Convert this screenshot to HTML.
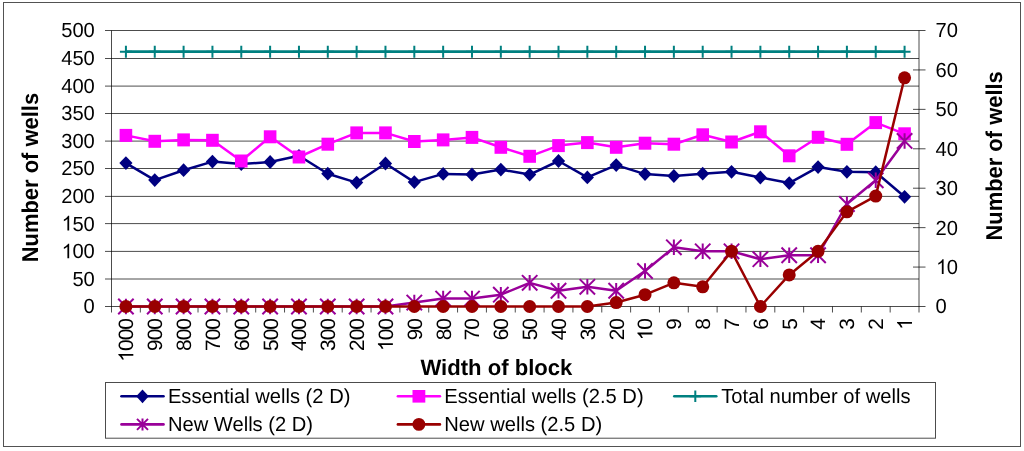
<!DOCTYPE html>
<html><head><meta charset="utf-8"><title>Chart</title>
<style>html,body{margin:0;padding:0;background:#fff;}svg{display:block;will-change:transform;}text{text-rendering:geometricPrecision;letter-spacing:0px;font-family:"Liberation Sans",sans-serif;fill:#000;}</style></head><body>
<svg width="1024" height="451" viewBox="0 0 1024 451">
<rect x="0" y="0" width="1024" height="451" fill="#fff"/>
<rect x="3.5" y="2.5" width="1017" height="444" fill="none" stroke="#000" stroke-opacity="0.68" stroke-width="1"/>
<g stroke="#000" stroke-opacity="0.7" stroke-width="1" fill="none">
<line x1="105.00" y1="30.50" x2="925.50" y2="30.50"/>
<line x1="105.00" y1="58.50" x2="919.00" y2="58.50"/>
<line x1="105.00" y1="86.10" x2="919.00" y2="86.10"/>
<line x1="105.00" y1="113.50" x2="919.00" y2="113.50"/>
<line x1="105.00" y1="141.10" x2="919.00" y2="141.10"/>
<line x1="105.00" y1="168.50" x2="919.00" y2="168.50"/>
<line x1="105.00" y1="196.40" x2="919.00" y2="196.40"/>
<line x1="105.00" y1="223.60" x2="919.00" y2="223.60"/>
<line x1="105.00" y1="251.40" x2="919.00" y2="251.40"/>
<line x1="105.00" y1="279.00" x2="919.00" y2="279.00"/>
<line x1="105.00" y1="306.50" x2="925.50" y2="306.50"/>
<line x1="111.50" y1="30.50" x2="111.50" y2="312.50"/>
<line x1="919.00" y1="30.50" x2="919.00" y2="312.50"/>
<line x1="913.00" y1="267.07" x2="925.50" y2="267.07"/>
<line x1="913.00" y1="227.64" x2="925.50" y2="227.64"/>
<line x1="913.00" y1="188.21" x2="925.50" y2="188.21"/>
<line x1="913.00" y1="148.79" x2="925.50" y2="148.79"/>
<line x1="913.00" y1="109.36" x2="925.50" y2="109.36"/>
<line x1="913.00" y1="69.93" x2="925.50" y2="69.93"/>
<line x1="140.34" y1="306.50" x2="140.34" y2="312.50"/>
<line x1="169.18" y1="306.50" x2="169.18" y2="312.50"/>
<line x1="198.02" y1="306.50" x2="198.02" y2="312.50"/>
<line x1="226.86" y1="306.50" x2="226.86" y2="312.50"/>
<line x1="255.70" y1="306.50" x2="255.70" y2="312.50"/>
<line x1="284.54" y1="306.50" x2="284.54" y2="312.50"/>
<line x1="313.38" y1="306.50" x2="313.38" y2="312.50"/>
<line x1="342.21" y1="306.50" x2="342.21" y2="312.50"/>
<line x1="371.05" y1="306.50" x2="371.05" y2="312.50"/>
<line x1="399.89" y1="306.50" x2="399.89" y2="312.50"/>
<line x1="428.73" y1="306.50" x2="428.73" y2="312.50"/>
<line x1="457.57" y1="306.50" x2="457.57" y2="312.50"/>
<line x1="486.41" y1="306.50" x2="486.41" y2="312.50"/>
<line x1="515.25" y1="306.50" x2="515.25" y2="312.50"/>
<line x1="544.09" y1="306.50" x2="544.09" y2="312.50"/>
<line x1="572.93" y1="306.50" x2="572.93" y2="312.50"/>
<line x1="601.77" y1="306.50" x2="601.77" y2="312.50"/>
<line x1="630.61" y1="306.50" x2="630.61" y2="312.50"/>
<line x1="659.45" y1="306.50" x2="659.45" y2="312.50"/>
<line x1="688.29" y1="306.50" x2="688.29" y2="312.50"/>
<line x1="717.12" y1="306.50" x2="717.12" y2="312.50"/>
<line x1="745.96" y1="306.50" x2="745.96" y2="312.50"/>
<line x1="774.80" y1="306.50" x2="774.80" y2="312.50"/>
<line x1="803.64" y1="306.50" x2="803.64" y2="312.50"/>
<line x1="832.48" y1="306.50" x2="832.48" y2="312.50"/>
<line x1="861.32" y1="306.50" x2="861.32" y2="312.50"/>
<line x1="890.16" y1="306.50" x2="890.16" y2="312.50"/>
</g>
<polyline points="125.92,163.10 154.76,180.10 183.60,170.20 212.44,161.60 241.28,164.10 270.12,162.00 298.96,155.80 327.79,173.70 356.63,182.60 385.47,163.50 414.31,182.10 443.15,173.90 471.99,174.50 500.83,169.60 529.67,174.60 558.51,161.00 587.35,177.40 616.19,165.10 645.03,174.10 673.87,176.00 702.71,173.70 731.54,171.80 760.38,177.50 789.22,183.10 818.06,167.10 846.90,171.80 875.74,172.20 904.58,196.80" fill="none" stroke="#000080" stroke-width="2.50" stroke-linejoin="round" stroke-linecap="round"/>
<path d="M125.92 156.20L132.52 163.10L125.92 170.00L119.32 163.10Z" fill="#000080"/>
<path d="M154.76 173.20L161.36 180.10L154.76 187.00L148.16 180.10Z" fill="#000080"/>
<path d="M183.60 163.30L190.20 170.20L183.60 177.10L177.00 170.20Z" fill="#000080"/>
<path d="M212.44 154.70L219.04 161.60L212.44 168.50L205.84 161.60Z" fill="#000080"/>
<path d="M241.28 157.20L247.88 164.10L241.28 171.00L234.68 164.10Z" fill="#000080"/>
<path d="M270.12 155.10L276.72 162.00L270.12 168.90L263.52 162.00Z" fill="#000080"/>
<path d="M298.96 148.90L305.56 155.80L298.96 162.70L292.36 155.80Z" fill="#000080"/>
<path d="M327.79 166.80L334.39 173.70L327.79 180.60L321.19 173.70Z" fill="#000080"/>
<path d="M356.63 175.70L363.23 182.60L356.63 189.50L350.03 182.60Z" fill="#000080"/>
<path d="M385.47 156.60L392.07 163.50L385.47 170.40L378.87 163.50Z" fill="#000080"/>
<path d="M414.31 175.20L420.91 182.10L414.31 189.00L407.71 182.10Z" fill="#000080"/>
<path d="M443.15 167.00L449.75 173.90L443.15 180.80L436.55 173.90Z" fill="#000080"/>
<path d="M471.99 167.60L478.59 174.50L471.99 181.40L465.39 174.50Z" fill="#000080"/>
<path d="M500.83 162.70L507.43 169.60L500.83 176.50L494.23 169.60Z" fill="#000080"/>
<path d="M529.67 167.70L536.27 174.60L529.67 181.50L523.07 174.60Z" fill="#000080"/>
<path d="M558.51 154.10L565.11 161.00L558.51 167.90L551.91 161.00Z" fill="#000080"/>
<path d="M587.35 170.50L593.95 177.40L587.35 184.30L580.75 177.40Z" fill="#000080"/>
<path d="M616.19 158.20L622.79 165.10L616.19 172.00L609.59 165.10Z" fill="#000080"/>
<path d="M645.03 167.20L651.63 174.10L645.03 181.00L638.43 174.10Z" fill="#000080"/>
<path d="M673.87 169.10L680.47 176.00L673.87 182.90L667.27 176.00Z" fill="#000080"/>
<path d="M702.71 166.80L709.31 173.70L702.71 180.60L696.11 173.70Z" fill="#000080"/>
<path d="M731.54 164.90L738.14 171.80L731.54 178.70L724.94 171.80Z" fill="#000080"/>
<path d="M760.38 170.60L766.98 177.50L760.38 184.40L753.78 177.50Z" fill="#000080"/>
<path d="M789.22 176.20L795.82 183.10L789.22 190.00L782.62 183.10Z" fill="#000080"/>
<path d="M818.06 160.20L824.66 167.10L818.06 174.00L811.46 167.10Z" fill="#000080"/>
<path d="M846.90 164.90L853.50 171.80L846.90 178.70L840.30 171.80Z" fill="#000080"/>
<path d="M875.74 165.30L882.34 172.20L875.74 179.10L869.14 172.20Z" fill="#000080"/>
<path d="M904.58 189.90L911.18 196.80L904.58 203.70L897.98 196.80Z" fill="#000080"/>
<polyline points="125.92,135.40 154.76,141.30 183.60,139.90 212.44,140.30 241.28,161.00 270.12,136.80 298.96,157.00 327.79,144.20 356.63,132.90 385.47,132.90 414.31,141.50 443.15,139.90 471.99,137.40 500.83,147.30 529.67,156.30 558.51,145.60 587.35,142.60 616.19,147.30 645.03,143.20 673.87,144.20 702.71,134.80 731.54,142.00 760.38,131.80 789.22,155.80 818.06,137.30 846.90,144.30 875.74,122.60 904.58,133.80" fill="none" stroke="#ff00ff" stroke-width="2.50" stroke-linejoin="round" stroke-linecap="round"/>
<rect x="119.62" y="128.90" width="12.60" height="13.00" fill="#ff00ff"/>
<rect x="148.46" y="134.80" width="12.60" height="13.00" fill="#ff00ff"/>
<rect x="177.30" y="133.40" width="12.60" height="13.00" fill="#ff00ff"/>
<rect x="206.14" y="133.80" width="12.60" height="13.00" fill="#ff00ff"/>
<rect x="234.98" y="154.50" width="12.60" height="13.00" fill="#ff00ff"/>
<rect x="263.82" y="130.30" width="12.60" height="13.00" fill="#ff00ff"/>
<rect x="292.66" y="150.50" width="12.60" height="13.00" fill="#ff00ff"/>
<rect x="321.49" y="137.70" width="12.60" height="13.00" fill="#ff00ff"/>
<rect x="350.33" y="126.40" width="12.60" height="13.00" fill="#ff00ff"/>
<rect x="379.17" y="126.40" width="12.60" height="13.00" fill="#ff00ff"/>
<rect x="408.01" y="135.00" width="12.60" height="13.00" fill="#ff00ff"/>
<rect x="436.85" y="133.40" width="12.60" height="13.00" fill="#ff00ff"/>
<rect x="465.69" y="130.90" width="12.60" height="13.00" fill="#ff00ff"/>
<rect x="494.53" y="140.80" width="12.60" height="13.00" fill="#ff00ff"/>
<rect x="523.37" y="149.80" width="12.60" height="13.00" fill="#ff00ff"/>
<rect x="552.21" y="139.10" width="12.60" height="13.00" fill="#ff00ff"/>
<rect x="581.05" y="136.10" width="12.60" height="13.00" fill="#ff00ff"/>
<rect x="609.89" y="140.80" width="12.60" height="13.00" fill="#ff00ff"/>
<rect x="638.73" y="136.70" width="12.60" height="13.00" fill="#ff00ff"/>
<rect x="667.57" y="137.70" width="12.60" height="13.00" fill="#ff00ff"/>
<rect x="696.41" y="128.30" width="12.60" height="13.00" fill="#ff00ff"/>
<rect x="725.24" y="135.50" width="12.60" height="13.00" fill="#ff00ff"/>
<rect x="754.08" y="125.30" width="12.60" height="13.00" fill="#ff00ff"/>
<rect x="782.92" y="149.30" width="12.60" height="13.00" fill="#ff00ff"/>
<rect x="811.76" y="130.80" width="12.60" height="13.00" fill="#ff00ff"/>
<rect x="840.60" y="137.80" width="12.60" height="13.00" fill="#ff00ff"/>
<rect x="869.44" y="116.10" width="12.60" height="13.00" fill="#ff00ff"/>
<rect x="898.28" y="127.30" width="12.60" height="13.00" fill="#ff00ff"/>
<line x1="125.92" y1="51.70" x2="904.58" y2="51.70" stroke="#008080" stroke-width="2.80"/>
<path d="M125.92 45.70V57.70M119.92 51.70H131.92" stroke="#008080" stroke-width="2.00" fill="none"/>
<path d="M154.76 45.70V57.70M148.76 51.70H160.76" stroke="#008080" stroke-width="2.00" fill="none"/>
<path d="M183.60 45.70V57.70M177.60 51.70H189.60" stroke="#008080" stroke-width="2.00" fill="none"/>
<path d="M212.44 45.70V57.70M206.44 51.70H218.44" stroke="#008080" stroke-width="2.00" fill="none"/>
<path d="M241.28 45.70V57.70M235.28 51.70H247.28" stroke="#008080" stroke-width="2.00" fill="none"/>
<path d="M270.12 45.70V57.70M264.12 51.70H276.12" stroke="#008080" stroke-width="2.00" fill="none"/>
<path d="M298.96 45.70V57.70M292.96 51.70H304.96" stroke="#008080" stroke-width="2.00" fill="none"/>
<path d="M327.79 45.70V57.70M321.79 51.70H333.79" stroke="#008080" stroke-width="2.00" fill="none"/>
<path d="M356.63 45.70V57.70M350.63 51.70H362.63" stroke="#008080" stroke-width="2.00" fill="none"/>
<path d="M385.47 45.70V57.70M379.47 51.70H391.47" stroke="#008080" stroke-width="2.00" fill="none"/>
<path d="M414.31 45.70V57.70M408.31 51.70H420.31" stroke="#008080" stroke-width="2.00" fill="none"/>
<path d="M443.15 45.70V57.70M437.15 51.70H449.15" stroke="#008080" stroke-width="2.00" fill="none"/>
<path d="M471.99 45.70V57.70M465.99 51.70H477.99" stroke="#008080" stroke-width="2.00" fill="none"/>
<path d="M500.83 45.70V57.70M494.83 51.70H506.83" stroke="#008080" stroke-width="2.00" fill="none"/>
<path d="M529.67 45.70V57.70M523.67 51.70H535.67" stroke="#008080" stroke-width="2.00" fill="none"/>
<path d="M558.51 45.70V57.70M552.51 51.70H564.51" stroke="#008080" stroke-width="2.00" fill="none"/>
<path d="M587.35 45.70V57.70M581.35 51.70H593.35" stroke="#008080" stroke-width="2.00" fill="none"/>
<path d="M616.19 45.70V57.70M610.19 51.70H622.19" stroke="#008080" stroke-width="2.00" fill="none"/>
<path d="M645.03 45.70V57.70M639.03 51.70H651.03" stroke="#008080" stroke-width="2.00" fill="none"/>
<path d="M673.87 45.70V57.70M667.87 51.70H679.87" stroke="#008080" stroke-width="2.00" fill="none"/>
<path d="M702.71 45.70V57.70M696.71 51.70H708.71" stroke="#008080" stroke-width="2.00" fill="none"/>
<path d="M731.54 45.70V57.70M725.54 51.70H737.54" stroke="#008080" stroke-width="2.00" fill="none"/>
<path d="M760.38 45.70V57.70M754.38 51.70H766.38" stroke="#008080" stroke-width="2.00" fill="none"/>
<path d="M789.22 45.70V57.70M783.22 51.70H795.22" stroke="#008080" stroke-width="2.00" fill="none"/>
<path d="M818.06 45.70V57.70M812.06 51.70H824.06" stroke="#008080" stroke-width="2.00" fill="none"/>
<path d="M846.90 45.70V57.70M840.90 51.70H852.90" stroke="#008080" stroke-width="2.00" fill="none"/>
<path d="M875.74 45.70V57.70M869.74 51.70H881.74" stroke="#008080" stroke-width="2.00" fill="none"/>
<path d="M904.58 45.70V57.70M898.58 51.70H910.58" stroke="#008080" stroke-width="2.00" fill="none"/>
<polyline points="125.92,306.50 154.76,306.50 183.60,306.50 212.44,306.50 241.28,306.50 270.12,306.50 298.96,306.50 327.79,306.50 356.63,306.50 385.47,306.50 414.31,302.56 443.15,298.61 471.99,298.61 500.83,294.67 529.67,282.84 558.51,290.73 587.35,286.79 616.19,290.73 645.03,271.01 673.87,247.36 702.71,251.30 731.54,251.30 760.38,259.19 789.22,255.24 818.06,255.24 846.90,203.99 875.74,180.33 904.58,140.90" fill="none" stroke="#990099" stroke-width="2.50" stroke-linejoin="round" stroke-linecap="round"/>
<path d="M118.22 298.80L133.62 314.20M118.22 314.20L133.62 298.80M125.92 298.75V314.25" stroke="#990099" stroke-width="2.00" fill="none"/>
<path d="M147.06 298.80L162.46 314.20M147.06 314.20L162.46 298.80M154.76 298.75V314.25" stroke="#990099" stroke-width="2.00" fill="none"/>
<path d="M175.90 298.80L191.30 314.20M175.90 314.20L191.30 298.80M183.60 298.75V314.25" stroke="#990099" stroke-width="2.00" fill="none"/>
<path d="M204.74 298.80L220.14 314.20M204.74 314.20L220.14 298.80M212.44 298.75V314.25" stroke="#990099" stroke-width="2.00" fill="none"/>
<path d="M233.58 298.80L248.98 314.20M233.58 314.20L248.98 298.80M241.28 298.75V314.25" stroke="#990099" stroke-width="2.00" fill="none"/>
<path d="M262.42 298.80L277.82 314.20M262.42 314.20L277.82 298.80M270.12 298.75V314.25" stroke="#990099" stroke-width="2.00" fill="none"/>
<path d="M291.26 298.80L306.66 314.20M291.26 314.20L306.66 298.80M298.96 298.75V314.25" stroke="#990099" stroke-width="2.00" fill="none"/>
<path d="M320.09 298.80L335.49 314.20M320.09 314.20L335.49 298.80M327.79 298.75V314.25" stroke="#990099" stroke-width="2.00" fill="none"/>
<path d="M348.93 298.80L364.33 314.20M348.93 314.20L364.33 298.80M356.63 298.75V314.25" stroke="#990099" stroke-width="2.00" fill="none"/>
<path d="M377.77 298.80L393.17 314.20M377.77 314.20L393.17 298.80M385.47 298.75V314.25" stroke="#990099" stroke-width="2.00" fill="none"/>
<path d="M406.61 294.86L422.01 310.26M406.61 310.26L422.01 294.86M414.31 294.81V310.31" stroke="#990099" stroke-width="2.00" fill="none"/>
<path d="M435.45 290.91L450.85 306.31M435.45 306.31L450.85 290.91M443.15 290.86V306.36" stroke="#990099" stroke-width="2.00" fill="none"/>
<path d="M464.29 290.91L479.69 306.31M464.29 306.31L479.69 290.91M471.99 290.86V306.36" stroke="#990099" stroke-width="2.00" fill="none"/>
<path d="M493.13 286.97L508.53 302.37M493.13 302.37L508.53 286.97M500.83 286.92V302.42" stroke="#990099" stroke-width="2.00" fill="none"/>
<path d="M521.97 275.14L537.37 290.54M521.97 290.54L537.37 275.14M529.67 275.09V290.59" stroke="#990099" stroke-width="2.00" fill="none"/>
<path d="M550.81 283.03L566.21 298.43M550.81 298.43L566.21 283.03M558.51 282.98V298.48" stroke="#990099" stroke-width="2.00" fill="none"/>
<path d="M579.65 279.09L595.05 294.49M579.65 294.49L595.05 279.09M587.35 279.04V294.54" stroke="#990099" stroke-width="2.00" fill="none"/>
<path d="M608.49 283.03L623.89 298.43M608.49 298.43L623.89 283.03M616.19 282.98V298.48" stroke="#990099" stroke-width="2.00" fill="none"/>
<path d="M637.33 263.31L652.73 278.71M637.33 278.71L652.73 263.31M645.03 263.26V278.76" stroke="#990099" stroke-width="2.00" fill="none"/>
<path d="M666.17 239.66L681.57 255.06M666.17 255.06L681.57 239.66M673.87 239.61V255.11" stroke="#990099" stroke-width="2.00" fill="none"/>
<path d="M695.01 243.60L710.41 259.00M695.01 259.00L710.41 243.60M702.71 243.55V259.05" stroke="#990099" stroke-width="2.00" fill="none"/>
<path d="M723.84 243.60L739.24 259.00M723.84 259.00L739.24 243.60M731.54 243.55V259.05" stroke="#990099" stroke-width="2.00" fill="none"/>
<path d="M752.68 251.49L768.08 266.89M752.68 266.89L768.08 251.49M760.38 251.44V266.94" stroke="#990099" stroke-width="2.00" fill="none"/>
<path d="M781.52 247.54L796.92 262.94M781.52 262.94L796.92 247.54M789.22 247.49V262.99" stroke="#990099" stroke-width="2.00" fill="none"/>
<path d="M810.36 247.54L825.76 262.94M810.36 262.94L825.76 247.54M818.06 247.49V262.99" stroke="#990099" stroke-width="2.00" fill="none"/>
<path d="M839.20 196.29L854.60 211.69M839.20 211.69L854.60 196.29M846.90 196.24V211.74" stroke="#990099" stroke-width="2.00" fill="none"/>
<path d="M868.04 172.63L883.44 188.03M868.04 188.03L883.44 172.63M875.74 172.58V188.08" stroke="#990099" stroke-width="2.00" fill="none"/>
<path d="M896.88 133.20L912.28 148.60M896.88 148.60L912.28 133.20M904.58 133.15V148.65" stroke="#990099" stroke-width="2.00" fill="none"/>
<polyline points="125.92,306.50 154.76,306.50 183.60,306.50 212.44,306.50 241.28,306.50 270.12,306.50 298.96,306.50 327.79,306.50 356.63,306.50 385.47,306.50 414.31,306.50 443.15,306.50 471.99,306.50 500.83,306.50 529.67,306.50 558.51,306.50 587.35,306.50 616.19,302.56 645.03,294.67 673.87,282.84 702.71,286.79 731.54,251.30 760.38,306.50 789.22,274.96 818.06,251.30 846.90,211.87 875.74,196.10 904.58,77.81" fill="none" stroke="#990000" stroke-width="2.50" stroke-linejoin="round" stroke-linecap="round"/>
<circle cx="125.92" cy="306.50" r="6.50" fill="#990000"/>
<circle cx="154.76" cy="306.50" r="6.50" fill="#990000"/>
<circle cx="183.60" cy="306.50" r="6.50" fill="#990000"/>
<circle cx="212.44" cy="306.50" r="6.50" fill="#990000"/>
<circle cx="241.28" cy="306.50" r="6.50" fill="#990000"/>
<circle cx="270.12" cy="306.50" r="6.50" fill="#990000"/>
<circle cx="298.96" cy="306.50" r="6.50" fill="#990000"/>
<circle cx="327.79" cy="306.50" r="6.50" fill="#990000"/>
<circle cx="356.63" cy="306.50" r="6.50" fill="#990000"/>
<circle cx="385.47" cy="306.50" r="6.50" fill="#990000"/>
<circle cx="414.31" cy="306.50" r="6.50" fill="#990000"/>
<circle cx="443.15" cy="306.50" r="6.50" fill="#990000"/>
<circle cx="471.99" cy="306.50" r="6.50" fill="#990000"/>
<circle cx="500.83" cy="306.50" r="6.50" fill="#990000"/>
<circle cx="529.67" cy="306.50" r="6.50" fill="#990000"/>
<circle cx="558.51" cy="306.50" r="6.50" fill="#990000"/>
<circle cx="587.35" cy="306.50" r="6.50" fill="#990000"/>
<circle cx="616.19" cy="302.56" r="6.50" fill="#990000"/>
<circle cx="645.03" cy="294.67" r="6.50" fill="#990000"/>
<circle cx="673.87" cy="282.84" r="6.50" fill="#990000"/>
<circle cx="702.71" cy="286.79" r="6.50" fill="#990000"/>
<circle cx="731.54" cy="251.30" r="6.50" fill="#990000"/>
<circle cx="760.38" cy="306.50" r="6.50" fill="#990000"/>
<circle cx="789.22" cy="274.96" r="6.50" fill="#990000"/>
<circle cx="818.06" cy="251.30" r="6.50" fill="#990000"/>
<circle cx="846.90" cy="211.87" r="6.50" fill="#990000"/>
<circle cx="875.74" cy="196.10" r="6.50" fill="#990000"/>
<circle cx="904.58" cy="77.81" r="6.50" fill="#990000"/>
<text transform="translate(94.80,313.40) scale(0.9880,1)" font-size="20.40" text-anchor="end">0</text>
<text transform="translate(94.80,285.90) scale(0.9880,1)" font-size="20.40" text-anchor="end">50</text>
<g transform="translate(94.80,258.30) scale(0.9880,1)"><path transform="translate(-33.537,0) scale(0.009961)" d="M763 0H583V-1147Q518 -1085 412.5 -1023Q307 -961 223 -930V-1104Q374 -1175 487 -1276Q600 -1377 647 -1472H763Z" fill="#000"/><text x="-22.691" y="0" font-size="20.40">00</text></g>
<g transform="translate(94.80,230.50) scale(0.9880,1)"><path transform="translate(-33.537,0) scale(0.009961)" d="M763 0H583V-1147Q518 -1085 412.5 -1023Q307 -961 223 -930V-1104Q374 -1175 487 -1276Q600 -1377 647 -1472H763Z" fill="#000"/><text x="-22.691" y="0" font-size="20.40">50</text></g>
<text transform="translate(94.80,203.30) scale(0.9880,1)" font-size="20.40" text-anchor="end">200</text>
<text transform="translate(94.80,175.40) scale(0.9880,1)" font-size="20.40" text-anchor="end">250</text>
<text transform="translate(94.80,148.00) scale(0.9880,1)" font-size="20.40" text-anchor="end">300</text>
<text transform="translate(94.80,120.40) scale(0.9880,1)" font-size="20.40" text-anchor="end">350</text>
<text transform="translate(94.80,93.00) scale(0.9880,1)" font-size="20.40" text-anchor="end">400</text>
<text transform="translate(94.80,65.40) scale(0.9880,1)" font-size="20.40" text-anchor="end">450</text>
<text transform="translate(94.80,37.40) scale(0.9880,1)" font-size="20.40" text-anchor="end">500</text>
<text transform="translate(935.60,313.40) scale(0.9880,1)" font-size="20.40">0</text>
<g transform="translate(935.60,273.97) scale(0.9880,1)"><path transform="translate(0.500,0) scale(0.009961)" d="M763 0H583V-1147Q518 -1085 412.5 -1023Q307 -961 223 -930V-1104Q374 -1175 487 -1276Q600 -1377 647 -1472H763Z" fill="#000"/><text x="11.346" y="0" font-size="20.40">0</text></g>
<text transform="translate(935.60,234.54) scale(0.9880,1)" font-size="20.40">20</text>
<text transform="translate(935.60,195.11) scale(0.9880,1)" font-size="20.40">30</text>
<text transform="translate(935.60,155.69) scale(0.9880,1)" font-size="20.40">40</text>
<text transform="translate(935.60,116.26) scale(0.9880,1)" font-size="20.40">50</text>
<text transform="translate(935.60,76.83) scale(0.9880,1)" font-size="20.40">60</text>
<text transform="translate(935.60,37.40) scale(0.9880,1)" font-size="20.40">70</text>
<g transform="translate(133.32,319.00) rotate(-90) scale(1.0000,1)"><path transform="translate(-42.672,0) scale(0.010156)" d="M763 0H583V-1147Q518 -1085 412.5 -1023Q307 -961 223 -930V-1104Q374 -1175 487 -1276Q600 -1377 647 -1472H763Z" fill="#000"/><text x="-32.004" y="0" font-size="20.80" style="letter-spacing:-0.90px">000</text></g>
<text transform="translate(162.16,319.00) rotate(-90) scale(1.0000,1)" font-size="20.80" style="letter-spacing:-0.90px" text-anchor="end">900</text>
<text transform="translate(191.00,319.00) rotate(-90) scale(1.0000,1)" font-size="20.80" style="letter-spacing:-0.90px" text-anchor="end">800</text>
<text transform="translate(219.84,319.00) rotate(-90) scale(1.0000,1)" font-size="20.80" style="letter-spacing:-0.90px" text-anchor="end">700</text>
<text transform="translate(248.68,319.00) rotate(-90) scale(1.0000,1)" font-size="20.80" style="letter-spacing:-0.90px" text-anchor="end">600</text>
<text transform="translate(277.52,319.00) rotate(-90) scale(1.0000,1)" font-size="20.80" style="letter-spacing:-0.90px" text-anchor="end">500</text>
<text transform="translate(306.36,319.00) rotate(-90) scale(1.0000,1)" font-size="20.80" style="letter-spacing:-0.90px" text-anchor="end">400</text>
<text transform="translate(335.19,319.00) rotate(-90) scale(1.0000,1)" font-size="20.80" style="letter-spacing:-0.90px" text-anchor="end">300</text>
<text transform="translate(364.03,319.00) rotate(-90) scale(1.0000,1)" font-size="20.80" style="letter-spacing:-0.90px" text-anchor="end">200</text>
<g transform="translate(392.87,319.00) rotate(-90) scale(1.0000,1)"><path transform="translate(-32.004,0) scale(0.010156)" d="M763 0H583V-1147Q518 -1085 412.5 -1023Q307 -961 223 -930V-1104Q374 -1175 487 -1276Q600 -1377 647 -1472H763Z" fill="#000"/><text x="-21.336" y="0" font-size="20.80" style="letter-spacing:-0.90px">00</text></g>
<text transform="translate(421.71,319.00) rotate(-90) scale(1.0000,1)" font-size="20.80" style="letter-spacing:-0.90px" text-anchor="end">90</text>
<text transform="translate(450.55,319.00) rotate(-90) scale(1.0000,1)" font-size="20.80" style="letter-spacing:-0.90px" text-anchor="end">80</text>
<text transform="translate(479.39,319.00) rotate(-90) scale(1.0000,1)" font-size="20.80" style="letter-spacing:-0.90px" text-anchor="end">70</text>
<text transform="translate(508.23,319.00) rotate(-90) scale(1.0000,1)" font-size="20.80" style="letter-spacing:-0.90px" text-anchor="end">60</text>
<text transform="translate(537.07,319.00) rotate(-90) scale(1.0000,1)" font-size="20.80" style="letter-spacing:-0.90px" text-anchor="end">50</text>
<text transform="translate(565.91,319.00) rotate(-90) scale(1.0000,1)" font-size="20.80" style="letter-spacing:-0.90px" text-anchor="end">40</text>
<text transform="translate(594.75,319.00) rotate(-90) scale(1.0000,1)" font-size="20.80" style="letter-spacing:-0.90px" text-anchor="end">30</text>
<text transform="translate(623.59,319.00) rotate(-90) scale(1.0000,1)" font-size="20.80" style="letter-spacing:-0.90px" text-anchor="end">20</text>
<g transform="translate(652.43,319.00) rotate(-90) scale(1.0000,1)"><path transform="translate(-21.336,0) scale(0.010156)" d="M763 0H583V-1147Q518 -1085 412.5 -1023Q307 -961 223 -930V-1104Q374 -1175 487 -1276Q600 -1377 647 -1472H763Z" fill="#000"/><text x="-10.668" y="0" font-size="20.80" style="letter-spacing:-0.90px">0</text></g>
<text transform="translate(681.27,319.00) rotate(-90) scale(1.0000,1)" font-size="20.80" style="letter-spacing:-0.90px" text-anchor="end">9</text>
<text transform="translate(710.11,319.00) rotate(-90) scale(1.0000,1)" font-size="20.80" style="letter-spacing:-0.90px" text-anchor="end">8</text>
<text transform="translate(738.94,319.00) rotate(-90) scale(1.0000,1)" font-size="20.80" style="letter-spacing:-0.90px" text-anchor="end">7</text>
<text transform="translate(767.78,319.00) rotate(-90) scale(1.0000,1)" font-size="20.80" style="letter-spacing:-0.90px" text-anchor="end">6</text>
<text transform="translate(796.62,319.00) rotate(-90) scale(1.0000,1)" font-size="20.80" style="letter-spacing:-0.90px" text-anchor="end">5</text>
<text transform="translate(825.46,319.00) rotate(-90) scale(1.0000,1)" font-size="20.80" style="letter-spacing:-0.90px" text-anchor="end">4</text>
<text transform="translate(854.30,319.00) rotate(-90) scale(1.0000,1)" font-size="20.80" style="letter-spacing:-0.90px" text-anchor="end">3</text>
<text transform="translate(883.14,319.00) rotate(-90) scale(1.0000,1)" font-size="20.80" style="letter-spacing:-0.90px" text-anchor="end">2</text>
<g transform="translate(911.98,319.00) rotate(-90) scale(1.0000,1)"><path transform="translate(-10.668,0) scale(0.010156)" d="M763 0H583V-1147Q518 -1085 412.5 -1023Q307 -961 223 -930V-1104Q374 -1175 487 -1276Q600 -1377 647 -1472H763Z" fill="#000"/></g>
<text transform="translate(37.55,262.30) rotate(-90) scale(0.9580,1)" font-size="22.90" font-weight="bold">Number of wells</text>
<text transform="translate(1002.15,240.60) rotate(-90) scale(0.9580,1)" font-size="22.90" font-weight="bold">Number of wells</text>
<text transform="translate(420.40,375.10) scale(1.0000,1)" font-size="22.10" font-weight="bold">Width of block</text>
<rect x="105.5" y="382.5" width="830" height="55.7" fill="#fff" stroke="#000" stroke-opacity="0.7" stroke-width="1"/>
<line x1="121.50" y1="396.30" x2="163.50" y2="396.30" stroke="#000080" stroke-width="2.6" stroke-linecap="round"/>
<path d="M142.50 389.40L148.80 396.30L142.50 403.20L136.20 396.30Z" fill="#000080"/>
<text transform="translate(167.90,402.80) scale(0.9880,1)" font-size="20.40">Essential wells (2 D)</text>
<line x1="397.90" y1="396.30" x2="439.90" y2="396.30" stroke="#ff00ff" stroke-width="2.6" stroke-linecap="round"/>
<rect x="412.50" y="390.00" width="12.80" height="12.60" fill="#ff00ff"/>
<text transform="translate(444.30,402.80) scale(0.9880,1)" font-size="20.40">Essential wells (2.5 D)</text>
<line x1="674.30" y1="396.30" x2="716.30" y2="396.30" stroke="#008080" stroke-width="2.6" stroke-linecap="round"/>
<path d="M695.30 390.50V402.10M689.50 396.30H701.10" stroke="#008080" stroke-width="2.00" fill="none"/>
<text transform="translate(721.30,402.80) scale(0.9880,1)" font-size="20.40">Total number of wells</text>
<line x1="121.50" y1="424.40" x2="163.50" y2="424.40" stroke="#990099" stroke-width="2.6" stroke-linecap="round"/>
<path d="M137.00 418.90L148.00 429.90M137.00 429.90L148.00 418.90M142.50 418.40V430.40" stroke="#990099" stroke-width="2.00" fill="none"/>
<text transform="translate(167.90,430.90) scale(0.9880,1)" font-size="20.40">New Wells (2 D)</text>
<line x1="397.90" y1="424.40" x2="439.90" y2="424.40" stroke="#990000" stroke-width="2.6" stroke-linecap="round"/>
<circle cx="418.90" cy="424.40" r="6.40" fill="#990000"/>
<text transform="translate(444.30,430.90) scale(0.9880,1)" font-size="20.40">New wells (2.5 D)</text>
</svg></body></html>
